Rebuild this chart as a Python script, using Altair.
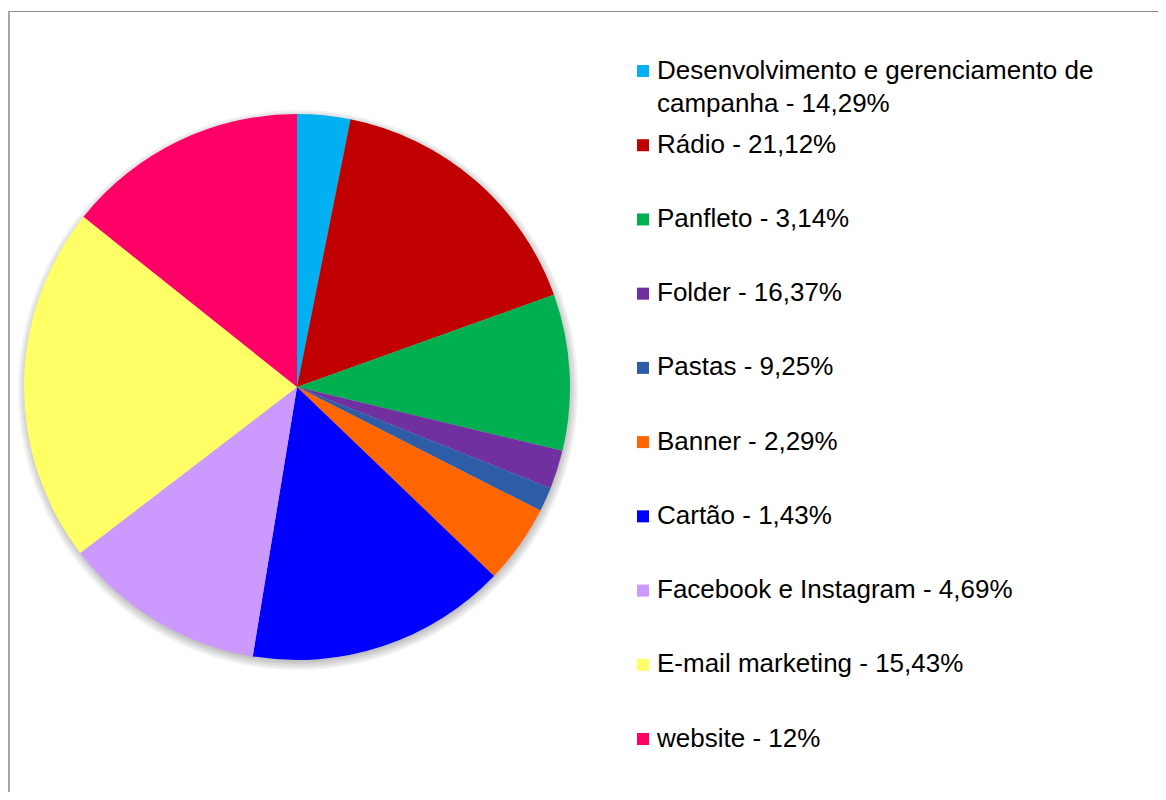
import altair as alt
import pandas as pd

# ---- data ----
categories = [
    "Desenvolvimento e gerenciamento de campanha",
    "Rádio",
    "Panfleto",
    "Folder",
    "Pastas",
    "Banner",
    "Cartão",
    "Facebook e Instagram",
    "E-mail marketing",
    "website",
]
legend_labels = [
    "Desenvolvimento e gerenciamento de\ncampanha - 14,29%",
    "Rádio - 21,12%",
    "Panfleto - 3,14%",
    "Folder - 16,37%",
    "Pastas - 9,25%",
    "Banner - 2,29%",
    "Cartão - 1,43%",
    "Facebook e Instagram - 4,69%",
    "E-mail marketing - 15,43%",
    "website - 12%",
]
# slice sizes as drawn in the picture (clockwise from 12 o'clock)
slice_values = [3.14, 16.37, 9.25, 2.29, 1.43, 4.69, 15.43, 12.0, 21.12, 14.29]
colors = ["#00B0F0", "#C00000", "#00B050", "#7030A0", "#2E5DA8",
          "#FF6600", "#0000FF", "#CC99FF", "#FFFF66", "#FF0066"]

df = pd.DataFrame({
    "idx": list(range(len(categories))),
    "cat": categories,
    "label": legend_labels,
    "value": slice_values,
})

W, H = 1150, 784
CX, CY, R = 289, 379, 273

color = alt.Color("cat:N", scale=alt.Scale(domain=categories, range=colors), legend=None)

one = pd.DataFrame({"a": [0]})

# soft drop shadow under the pie
shadow_layers = [
    alt.Chart(one).mark_arc(
        theta=0, theta2=6.2832, radius=r, color="black", opacity=0.05
    ).encode(x=alt.value(CX + 1), y=alt.value(CY + 3))
    for r in (280, 278, 276, 274, 272)
]

pie = alt.Chart(df).mark_arc(radius=R).encode(
    theta=alt.Theta("value:Q", stack=True),
    color=color,
    order=alt.Order("idx:Q"),
    x=alt.value(CX), y=alt.value(CY),
)

ys = alt.Y("idx:Q", scale=alt.Scale(domain=[0, 9], range=[63, 731]), axis=None)

squares = alt.Chart(df).mark_square(size=144, opacity=1).encode(
    x=alt.value(635), y=ys, color=color,
)
texts = alt.Chart(df).mark_text(
    align="left", baseline="alphabetic", dy=7.5, font="Liberation Sans",
    fontSize=26, lineBreak="\n", lineHeight=33, color="#000000",
).encode(
    x=alt.value(649), y=ys, text="label:N",
)

top_border = alt.Chart(one).mark_rule(color="#8c8c8c", strokeWidth=1).encode(
    x=alt.value(0), x2=alt.value(W), y=alt.value(3.5),
)
left_border = alt.Chart(one).mark_rule(color="#a6a6a6", strokeWidth=2).encode(
    x=alt.value(1), y=alt.value(3), y2=alt.value(H),
)

chart = alt.layer(*shadow_layers, pie, squares, texts, top_border, left_border).properties(
    width=W, height=H, padding=0, autosize=alt.AutoSizeParams(type="none"),
).configure_view(stroke=None)

chart.save("out.html", embed_options={"renderer": "svg", "actions": False})
